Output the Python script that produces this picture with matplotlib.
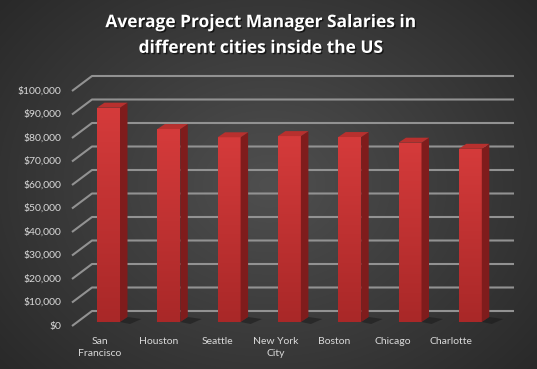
import numpy as np
import matplotlib
matplotlib.use("Agg")
import matplotlib.pyplot as plt
from matplotlib.patches import Polygon, Rectangle
import matplotlib.patheffects as pe

# ---- data ----
cities = ["San\nFrancisco", "Houston", "Seattle", "New York\nCity", "Boston", "Chicago", "Charlotte"]
salaries = [91200, 82100, 78600, 79100, 78700, 76300, 73700]
tick_values = [0, 10000, 20000, 30000, 40000, 50000, 60000, 70000, 80000, 90000, 100000]
tick_labels = ["$0", "$10,000", "$20,000", "$30,000", "$40,000", "$50,000",
               "$60,000", "$70,000", "$80,000", "$90,000", "$100,000"]
title = "Average Project Manager Salaries in\ndifferent cities inside the US"

W, H = 537, 369
fig = plt.figure(figsize=(W / 100, H / 100), dpi=100)

# background radial gradient
bg = fig.add_axes([0, 0, 1, 1], zorder=-10)
yy, xx = np.mgrid[0:H, 0:W]
r = np.sqrt(((xx - W * 0.5) / (W * 0.62)) ** 2 + ((yy - H * 0.5) / (H * 0.72)) ** 2)
g = np.clip(0.31 - 0.14 * r, 0.15, 0.31)
bg.imshow(np.dstack([g, g, g]), aspect="auto", extent=[0, 1, 0, 1], interpolation="bilinear")
bg.set_xlim(0, 1); bg.set_ylim(0, 1)
bg.axis("off")

# main axes: x in category units, y in dollars
ax = fig.add_axes([0, 0, 1, 1])
ax.patch.set_alpha(0)
ax.axis("off")
px_x = 1 / 60.3          # one pixel in x data units
px_y = 10000 / 23.5      # one pixel in y data units
x0 = 108.5
ax.set_xlim(-x0 * px_x, (W - x0) * px_x)
ax.set_ylim(-47 * px_y, (H - 47) * px_y)

# depth offsets (in pixels)
front_dy = -4            # front plane relative to bar front face
back_dy = 11             # back wall relative to bar front face
front_x = (72 - x0) * px_x
back_x = (92 - x0) * px_x
right_x = (514 - x0) * px_x

grid_col = "#929292"
for v in tick_values:
    yf = v + front_dy * px_y
    yb = v + back_dy * px_y
    ax.plot([front_x, back_x, right_x], [yf, yb, yb], color=grid_col, lw=1.5,
            solid_capstyle="butt", zorder=1)

# tick labels
label_col = "#d9d9d9"
font = "Lato"
for v, t in zip(tick_values, tick_labels):
    ax.text((61 - x0) * px_x, v + front_dy * px_y, t, ha="right", va="center",
            color=label_col, fontsize=7.5, family=font, zorder=5)

# bars (pseudo-3D)
bw = 23 * px_x
ddx = 7.5 * px_x
ddy = 5 * px_y
xs = np.arange(len(salaries))
front_cmap = matplotlib.colors.LinearSegmentedColormap.from_list("f", ["#a92828", "#d53b3b"])
for i, v in enumerate(salaries):
    xl = xs[i] - bw / 2
    xr = xs[i] + bw / 2
    # shadow
    sh = Polygon([(xr, 0), (xr + ddx, ddy), (xr + ddx + 14 * px_x, ddy * 0.6),
                  (xr + 10 * px_x, -2 * px_y)], closed=True,
                 facecolor="#1a1a1a", edgecolor="none", alpha=0.55, zorder=2)
    ax.add_patch(sh)
    # front face with vertical gradient
    rect = Rectangle((xl, 0), bw, v, facecolor="none", edgecolor="none", zorder=3)
    ax.add_patch(rect)
    grad = np.linspace(0, 1, 100).reshape(-1, 1)
    im = ax.imshow(grad, cmap=front_cmap, aspect="auto", extent=[xl, xr, 0, v],
                   origin="lower", zorder=3, interpolation="bilinear")
    im.set_clip_path(rect)
    # side face
    side = Polygon([(xr, 0), (xr + ddx, ddy), (xr + ddx, v + ddy), (xr, v)], closed=True,
                   facecolor="#7f1c1c", edgecolor="none", zorder=3)
    ax.add_patch(side)
    # top face
    top = Polygon([(xl, v), (xr, v), (xr + ddx, v + ddy), (xl + ddx, v + ddy)], closed=True,
                  facecolor="#b8302e", edgecolor="none", zorder=3)
    ax.add_patch(top)

# category labels (front plane)
for i, c in enumerate(cities):
    lx = (100 - x0) * px_x + i * (58.5 * px_x)
    ax.text(lx, (322 - 337) * px_y, c, ha="center", va="top", color=label_col,
            fontsize=7.5, family=font, linespacing=1.4, zorder=5)

# title
fig.text(261 / W, 1 - 35 / H, title, ha="center", va="center", color="white",
         fontsize=12.5, fontweight="bold", family="Open Sans", linespacing=1.55,
         path_effects=[pe.withSimplePatchShadow(offset=(1, -1), shadow_rgbFace="black", alpha=0.6)])

fig.savefig("out.png", dpi=100)
